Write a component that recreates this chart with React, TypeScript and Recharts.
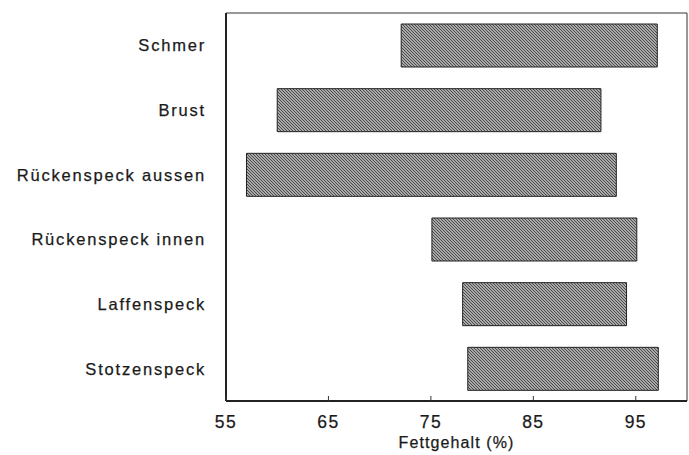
import React from 'react';
import { BarChart, Bar, XAxis, YAxis, ReferenceArea } from 'recharts';

const categories = ['Schmer', 'Brust', 'Rückenspeck aussen', 'Rückenspeck innen', 'Laffenspeck', 'Stotzenspeck'];
const lowValues = [72.1, 60.0, 57.0, 75.1, 78.1, 78.6];
const highValues = [97.1, 91.6, 93.1, 95.1, 94.1, 97.2];
const xTicks = [55, 65, 75, 85, 95];

const data = categories.map((name, i) => ({ name, range: [lowValues[i], highValues[i]] }));

const FONT = '"Liberation Sans", Arial, Helvetica, sans-serif';

const XTick = (props: any) => {
  const { x, y, payload } = props;
  return (
    <g>
      <line x1={x} x2={x} y1={y - 5} y2={y} stroke="#333" strokeWidth={1} />
      <text
        x={x}
        y={y + 27}
        textAnchor="middle"
        fontFamily={FONT}
        fontSize={17.5}
        letterSpacing={1.4}
        fill="#1a1a1a"
        stroke="#1a1a1a"
        strokeWidth={0.25}
      >
        {payload.value}
      </text>
    </g>
  );
};

const YTick = (props: any) => {
  const { x, y, payload } = props;
  return (
    <text
      x={x}
      y={y + 6}
      textAnchor="end"
      fontFamily={FONT}
      fontSize={16.5}
      letterSpacing={1.8}
      fill="#1a1a1a"
      stroke="#1a1a1a"
      strokeWidth={0.25}
    >
      {payload.value}
    </text>
  );
};

export default function App() {
  return (
    <div style={{ position: 'absolute', left: 0, top: 0, width: 689, height: 455, background: '#fff' }}>
      <BarChart
        width={689}
        height={455}
        data={data}
        layout="vertical"
        margin={{ top: 13, right: 2, bottom: 24, left: 0 }}
        barCategoryGap="33%"
      >
        <defs>
          <pattern id="hatch" patternUnits="userSpaceOnUse" width={3} height={3}>
            <rect width={3} height={3} fill="#a9a9a9" />
            <path d="M0,0 L3,3 M-1,2 L1,4 M2,-1 L4,1" stroke="#4a4a4a" strokeWidth={1} />
          </pattern>
        </defs>
        <XAxis
          type="number"
          domain={[55, 100]}
          ticks={xTicks}
          tick={<XTick />}
          tickLine={false}
          tickSize={0}
          tickMargin={0}
          height={30}
          axisLine={{ stroke: '#222', strokeWidth: 2 }}
          allowDataOverflow
        />
        <YAxis
          type="category"
          dataKey="name"
          width={226}
          tick={<YTick />}
          tickLine={false}
          tickSize={0}
          tickMargin={20}
          axisLine={{ stroke: '#222', strokeWidth: 2 }}
        />
        <ReferenceArea x1={55} x2={100} fill="none" stroke="#333" strokeWidth={1} ifOverflow="visible" />
        <Bar dataKey="range" fill="url(#hatch)" stroke="#222" strokeWidth={1} barSize={43} isAnimationActive={false} />
      </BarChart>
      <div
        style={{
          position: 'absolute',
          left: 226,
          width: 461,
          top: 434,
          textAlign: 'center',
          fontFamily: FONT,
          fontSize: 16,
          letterSpacing: 1.1,
          color: '#1a1a1a',
          WebkitTextStroke: '0.25px #1a1a1a',
        }}
      >
        Fettgehalt (%)
      </div>
    </div>
  );
}
